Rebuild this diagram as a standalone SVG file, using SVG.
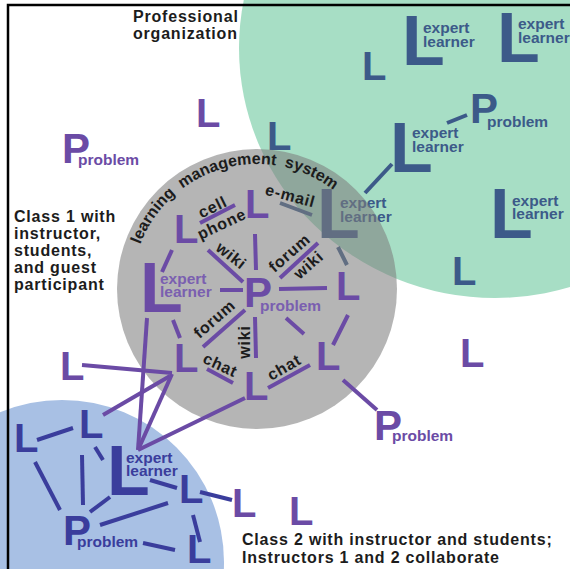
<svg xmlns="http://www.w3.org/2000/svg" width="570" height="569" viewBox="0 0 570 569">
<style>
text{font-family:"Liberation Sans",Arial,Helvetica,sans-serif;font-weight:bold}
.Ls{font-size:40px}
.Lb{font-size:70px}
.P{font-size:42px}
.el{font-size:15.5px}
.pr{font-size:15.5px}
.pu{fill:#6b4ba5}
.pl{fill:#7a5fb0}
.db{fill:#3c5a89}
.in{fill:#3a3d9c}
.lab{font-size:16px;fill:#1c1c1c;letter-spacing:0.8px}
.arc{font-size:16px;fill:#1c1c1c;word-spacing:4px}
.cap{font-size:16px;fill:#1c1c1c;letter-spacing:0.8px}
line{stroke-width:4;fill:none}
.cp line{stroke:#6b4ba5}
.cd line{stroke:#3c5a89}
.ci line{stroke:#3a3d9c}
</style>
<defs>
<path id="arcpath" d="M139.5 246.3A125 125 0 0 1 352.8 208.7"/>
</defs>
<rect width="570" height="569" fill="#fff"/>
<g id="regions">
<ellipse id="professional-organization" cx="495" cy="48" rx="256" ry="250" fill="#a7dec5"/>
<circle id="class2-area" cx="62" cy="562" r="162" fill="#a8c0e4"/>
</g>
<g id="connectors-green" class="cd">
<line x1="447" y1="123" x2="467" y2="115"/>
<line x1="392" y1="164" x2="365" y2="193"/>
<line x1="280" y1="203" x2="312" y2="215"/>
<line x1="338" y1="247" x2="347" y2="265"/>
</g>
<g id="n-g1"><text class="Lb db" x="402" y="65">L</text><text class="el db" x="423" y="33">expert</text><text class="el db" x="423" y="47">learner</text></g>
<g id="n-g2"><text class="Lb db" x="497" y="62">L</text><text class="el db" x="518" y="29">expert</text><text class="el db" x="518" y="43">learner</text></g>
<g id="n-g3"><text class="Ls db" x="362" y="80">L</text></g>
<g id="n-g4"><text class="P db" x="470" y="123">P</text><text class="pr db" x="487" y="127">problem</text></g>
<g id="n-g5"><text class="Lb db" x="390" y="172">L</text><text class="el db" x="412" y="138">expert</text><text class="el db" x="412" y="152">learner</text></g>
<g id="n-g6"><text class="Lb db" x="490" y="238">L</text><text class="el db" x="512" y="206">expert</text><text class="el db" x="512" y="219">learner</text></g>
<g id="n-g7"><text class="Ls db" x="452" y="285">L</text></g>
<g id="n-g8"><text class="Ls db" x="267" y="150">L</text></g>
<g id="n-o1"><text class="Lb db" x="317" y="238">L</text><text class="el db" x="340" y="208">expert</text><text class="el db" x="340" y="222">learner</text></g>
<circle id="class1-area" cx="257" cy="289" r="140" fill="#7d7d7d" fill-opacity="0.57"/>
<g id="connectors" class="cp">
<line x1="200" y1="223" x2="235" y2="205"/>
<line x1="208" y1="250" x2="243" y2="282"/>
<line x1="255" y1="234" x2="256" y2="270"/>
<line x1="280" y1="278" x2="318" y2="243"/>
<line x1="279" y1="289" x2="327" y2="288"/>
<line x1="220" y1="290" x2="243" y2="290"/>
<line x1="162" y1="272" x2="172" y2="250"/>
<line x1="203" y1="347" x2="245" y2="310"/>
<line x1="255" y1="317" x2="256" y2="358"/>
<line x1="207" y1="369" x2="233" y2="383"/>
<line x1="268" y1="388" x2="310" y2="365"/>
<line x1="286" y1="318" x2="304" y2="334"/>
<line x1="348" y1="315" x2="333" y2="345"/>
<line x1="173" y1="320" x2="180" y2="338"/>
<line x1="343" y1="380" x2="377" y2="410"/>
<line x1="82" y1="365" x2="172" y2="373"/>
<line x1="170" y1="376" x2="103" y2="415"/>
<line x1="147" y1="318" x2="138" y2="450"/>
<line x1="172" y1="374" x2="138" y2="450"/>
<line x1="245" y1="398" x2="138" y2="450"/>
</g>
<g id="connectors-blue" class="ci">
<line x1="37" y1="440" x2="73" y2="428"/>
<line x1="95" y1="447" x2="103" y2="460"/>
<line x1="82" y1="455" x2="83" y2="505"/>
<line x1="35" y1="462" x2="60" y2="510"/>
<line x1="90" y1="512" x2="110" y2="497"/>
<line x1="100" y1="525" x2="168" y2="503"/>
<line x1="150" y1="480" x2="177" y2="488"/>
<line x1="200" y1="492" x2="232" y2="500"/>
<line x1="193" y1="515" x2="200" y2="542"/>
<line x1="143" y1="543" x2="175" y2="550"/>
</g>
<g id="connector-labels">
<text class="arc"><textPath href="#arcpath" startOffset="2">learning management system</textPath></text>
<text class="lab" text-anchor="middle" transform="translate(215,212) rotate(-26)">cell</text>
<text class="lab" text-anchor="middle" transform="translate(224,229) rotate(-25)">phone</text>
<text class="lab" text-anchor="middle" transform="translate(289,201) rotate(15)">e-mail</text>
<text class="lab" text-anchor="middle" transform="translate(228,260) rotate(38)">wiki</text>
<text class="lab" text-anchor="middle" transform="translate(293,257) rotate(-41)">forum</text>
<text class="lab" text-anchor="middle" transform="translate(312,269) rotate(-41)">wiki</text>
<text class="lab" text-anchor="middle" transform="translate(218,323) rotate(-41)">forum</text>
<text class="lab" text-anchor="middle" transform="translate(250,342) rotate(-90)">wiki</text>
<text class="lab" text-anchor="middle" transform="translate(218,370) rotate(25)">chat</text>
<text class="lab" text-anchor="middle" transform="translate(287,372) rotate(-30)">chat</text>
</g>
<g id="n-c1"><text class="Ls pu" x="245" y="218">L</text></g>
<g id="n-c2"><text class="Ls pu" x="174" y="243">L</text></g>
<g id="n-e1"><text class="Lb pu" x="140" y="312">L</text><text class="el pl" x="160" y="284">expert</text><text class="el pl" x="160" y="297">learner</text></g>
<g id="n-pc"><text class="P pu" x="244" y="307">P</text><text class="pr pl" x="260" y="311">problem</text></g>
<g id="n-r1"><text class="Ls pu" x="336" y="300">L</text></g>
<g id="n-r2"><text class="Ls pu" x="316" y="370">L</text></g>
<g id="n-b2"><text class="Ls pu" x="174" y="372">L</text></g>
<g id="n-b1"><text class="Ls pu" x="244" y="400">L</text></g>
<g id="n-l1"><text class="Ls pu" x="196" y="127">L</text></g>
<g id="n-p1"><text class="P pu" x="62" y="163">P</text><text class="pr pu" x="78" y="165">problem</text></g>
<g id="n-l2"><text class="Ls pu" x="460" y="367">L</text></g>
<g id="n-ll"><text class="Ls pu" x="60" y="380">L</text></g>
<g id="n-pb"><text class="P pu" x="374" y="440">P</text><text class="pr pu" x="392" y="441">problem</text></g>
<g id="n-ol1"><text class="Ls pu" x="232" y="517">L</text></g>
<g id="n-ol2"><text class="Ls pu" x="289" y="525">L</text></g>
<g id="n-bl1"><text class="Ls in" x="14" y="452">L</text></g>
<g id="n-bl2"><text class="Ls in" x="79" y="438">L</text></g>
<g id="n-be"><text class="Lb in" x="107" y="495">L</text><text class="el in" x="126" y="463">expert</text><text class="el in" x="126" y="476">learner</text></g>
<g id="n-bp"><text class="P in" x="63" y="545">P</text><text class="pr in" x="77" y="547">problem</text></g>
<g id="n-bl3"><text class="Ls in" x="179" y="503">L</text></g>
<g id="n-bl4"><text class="Ls in" x="187" y="563">L</text></g>
<g id="captions">
<text class="cap" x="133" y="22">Professional</text>
<text class="cap" x="133" y="39">organization</text>
<text class="cap" x="14" y="222">Class 1 with</text>
<text class="cap" x="14" y="239">instructor,</text>
<text class="cap" x="14" y="256">students,</text>
<text class="cap" x="14" y="273">and guest</text>
<text class="cap" x="14" y="290">participant</text>
<text class="cap" x="242" y="545">Class 2 with instructor and students;</text>
<text class="cap" x="242" y="563">Instructors 1 and 2 collaborate</text>
</g>
<path id="frame" d="M8 569V5H570" fill="none" stroke="#000" stroke-width="2.5"/>
</svg>
